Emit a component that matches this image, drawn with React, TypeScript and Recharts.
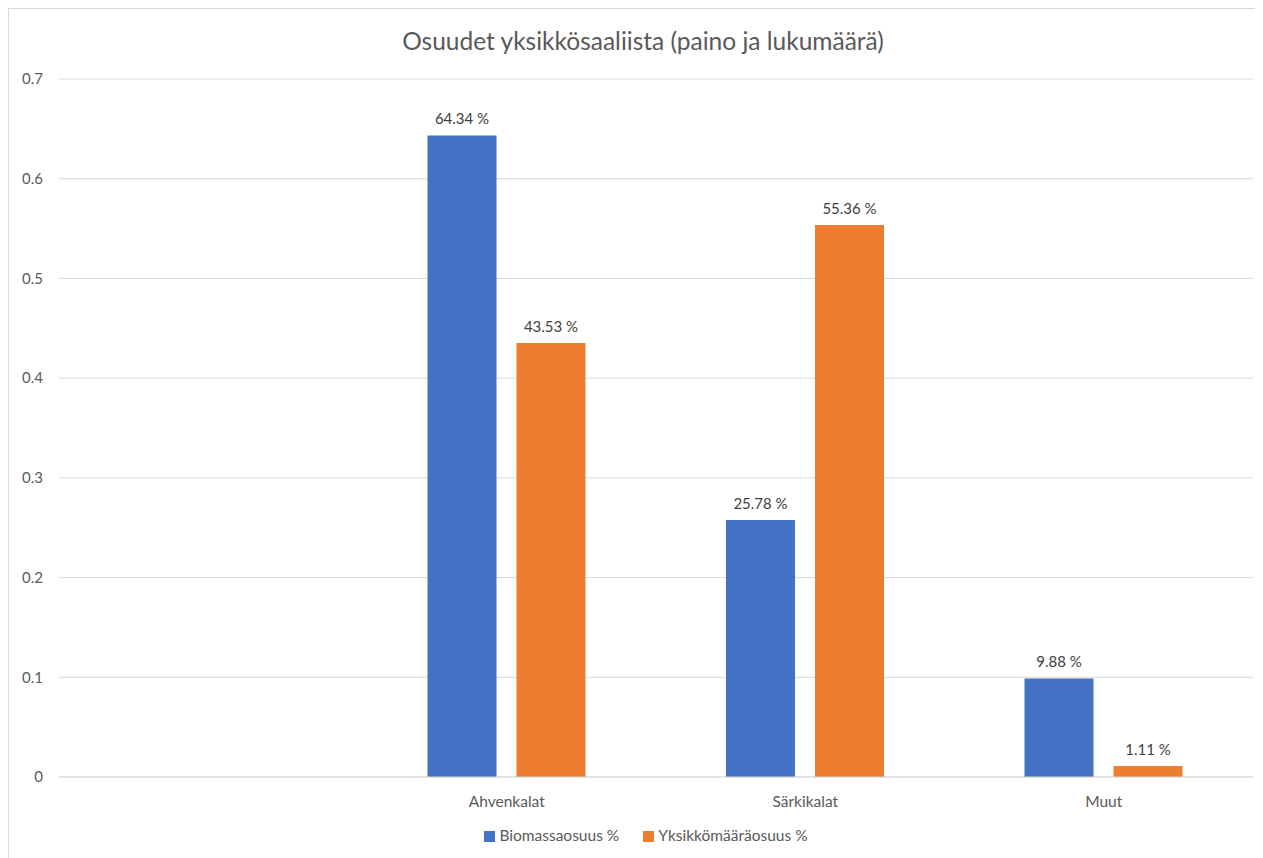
import React from 'react';
import {
  BarChart,
  Bar,
  XAxis,
  YAxis,
  CartesianGrid,
  Legend,
  LabelList,
} from 'recharts';

const categories = ['', 'Ahvenkalat', 'Särkikalat', 'Muut'];
const biomassShare = [null, 0.6434, 0.2578, 0.0988];
const countShare = [null, 0.4353, 0.5536, 0.0111];
const yTicks = [0, 0.1, 0.2, 0.3, 0.4, 0.5, 0.6, 0.7];

const FONT = 'Lato, "Open Sans", sans-serif';
const TEXT = '#595959';

const data = categories.map((name, i) => ({
  name,
  biomassa: biomassShare[i],
  yksikko: countShare[i],
}));

const pct = (v: any) => (v == null ? '' : (v * 100).toFixed(2) + ' %');

export default function App() {
  return (
    <div
      style={{
        position: 'relative',
        width: 1254,
        height: 849,
        borderLeft: '1px solid #d9d9d9',
        borderTop: '1px solid #d9d9d9',
        background: '#fff',
        fontFamily: FONT,
      }}
    >
      <div
        style={{
          position: 'absolute',
          top: 17,
          left: 0,
          width: 1268,
          textAlign: 'center',
          fontSize: 24.5,
          color: TEXT,
        }}
      >
        Osuudet yksikkösaaliista (paino ja lukumäärä)
      </div>
      <BarChart
        width={1254}
        height={849}
        data={data}
        margin={{ top: 70, right: 10, left: 0, bottom: 14 }}
        barSize={69}
        barGap={20}
      >
        <CartesianGrid vertical={false} stroke="#d9d9d9" />
        <XAxis
          dataKey="name"
          height={48}
          tickLine={false}
          axisLine={{ stroke: '#d9d9d9' }}
          tickMargin={13}
          tick={{ fill: TEXT, fontSize: 15.5, fontFamily: FONT }}
        />
        <YAxis
          width={50}
          domain={[0, 0.7]}
          ticks={yTicks}
          axisLine={false}
          tickLine={false}
          tickMargin={10}
          tick={{ fill: TEXT, fontSize: 15, fontFamily: FONT }}
        />
        <Legend
          verticalAlign="bottom"
          iconType="square"
          iconSize={11}
          wrapperStyle={{ left: 54, width: 1190 }}
          formatter={(value) => (
            <span style={{ color: TEXT, fontSize: 15.5, marginRight: 14 }}>{value}</span>
          )}
        />
        <Bar dataKey="biomassa" name="Biomassaosuus %" fill="#4472C4" isAnimationActive={false}>
          <LabelList
            dataKey="biomassa"
            position="top"
            offset={11}
            formatter={pct}
            style={{ fill: '#404040', fontSize: 15, fontFamily: FONT }}
          />
        </Bar>
        <Bar dataKey="yksikko" name="Yksikkömääräosuus %" fill="#ED7D31" isAnimationActive={false}>
          <LabelList
            dataKey="yksikko"
            position="top"
            offset={11}
            formatter={pct}
            style={{ fill: '#404040', fontSize: 15, fontFamily: FONT }}
          />
        </Bar>
      </BarChart>
    </div>
  );
}
